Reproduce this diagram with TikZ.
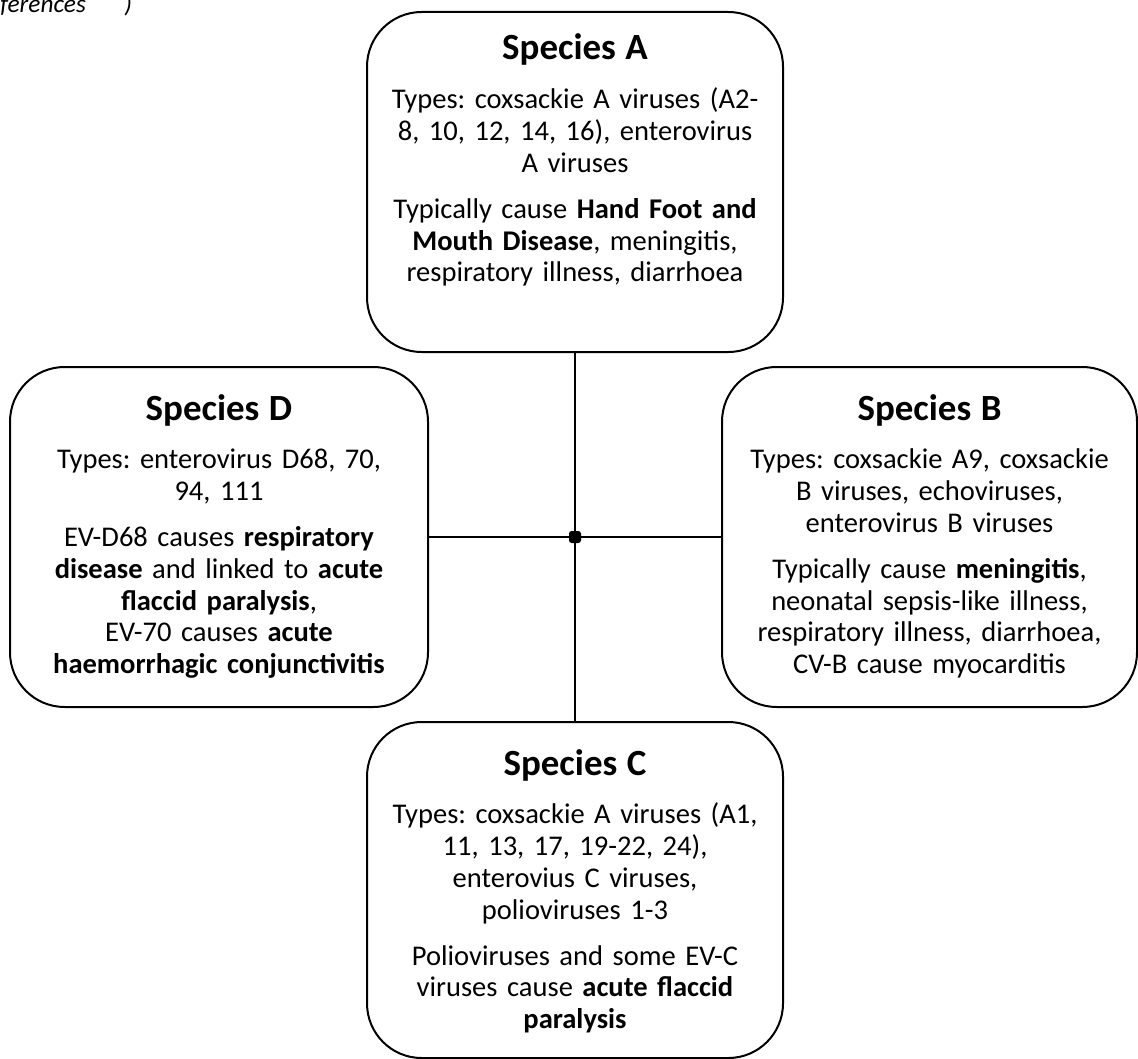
\documentclass[tikz,border=0pt]{standalone}
\usepackage{fontspec}
\setmainfont{Carlito}
\frenchspacing
\newcommand\bodyfnt{\fontsize{21.4pt}{23.8pt}\selectfont\frenchspacing}
\newcommand\ttl[1]{{\fontsize{27.7pt}{30pt}\selectfont\bfseries #1}\par\vspace{12.9pt}}
\newcommand\psep{\par\vspace{10.7pt}}
\tikzset{
  box/.style={draw, line width=1.5pt, rounded corners=41pt, inner sep=0pt},
  txt/.style={text width=310pt, align=center, inner sep=0pt, anchor=base, font=\bodyfnt},
  link/.style={line width=1.5pt},
  junction/.style={fill, inner sep=0pt, minimum size=9pt, rounded corners=2pt},
  frag/.style={font=\fontsize{19pt}{21pt}\selectfont\itshape, inner sep=0pt}
}
\begin{document}
\begin{tikzpicture}[x=0.75pt, y=-0.75pt]
\useasboundingbox (0,0) rectangle (1138,1059);
% boxes
\node[box, minimum width=312pt, minimum height=255pt] (A) at (575,182) {};
\node[box, minimum width=313.5pt, minimum height=255pt] (D) at (219,537) {};
\node[box, minimum width=311.25pt, minimum height=255pt] (B) at (929.5,537) {};
\node[box, minimum width=312pt, minimum height=252pt] (C) at (575,890) {};
% texts
\node[txt] (tA) at (575,60) {\ttl{Species A}
Types: coxsackie A viruses (A2-\\8, 10, 12, 14, 16), enterovirus\\A viruses\psep
Typically cause \textbf{Hand Foot and}\\\textbf{Mouth Disease}, meningitis,\\respiratory illness, diarrhoea};
\node[txt] (tD) at (219,420) {\ttl{Species D}
Types: enterovirus D68, 70,\\94, 111\psep
EV-D68 causes \textbf{respiratory}\\\textbf{disease} and linked to \textbf{acute}\\\textbf{flaccid paralysis},\\EV-70 causes \textbf{acute}\\\textbf{haemorrhagic conjunctivitis}};
\node[txt] (tB) at (929.5,420) {\ttl{Species B}
Types: coxsackie A9, coxsackie\\B viruses, echoviruses,\\enterovirus B viruses\psep
Typically cause \textbf{meningitis},\\neonatal sepsis-like illness,\\respiratory illness, diarrhoea,\\CV-B cause myocarditis};
\node[txt] (tC) at (575,775) {\ttl{Species C}
Types: coxsackie A viruses (A1,\\11, 13, 17, 19-22, 24),\\enterovius C viruses,\\polioviruses 1-3\psep
Polioviruses and some EV-C\\viruses cause \textbf{acute flaccid}\\\textbf{paralysis}};
% junction and connectors
\node[junction] (J) at (575,537) {};
\draw[link] (A.south) -- (J.center);
\draw[link] (J.center) -- (C.north);
\draw[link] (D.east) -- (J.center);
\draw[link] (J.center) -- (B.west);
% cut-off fragment at top-left (as in the reference)
\node[frag, anchor=base west] (f1) at (0,13) {ferences};
\node[frag, anchor=base west] (f2) at (124,13) {)};
\end{tikzpicture}
\end{document}
